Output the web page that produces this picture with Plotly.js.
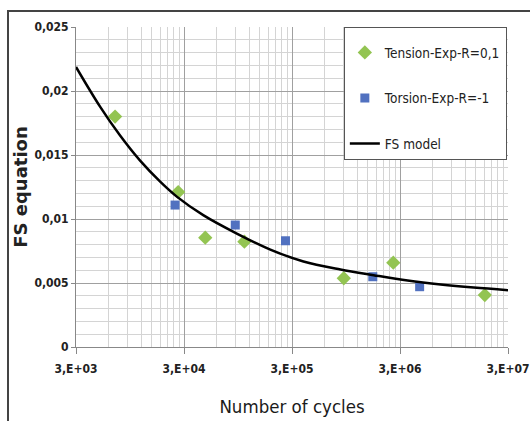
<!DOCTYPE html>
<html>
<head>
<meta charset="utf-8">
<script src="https://cdn.plot.ly/plotly-3.0.1.min.js"></script>
<style>
  html, body { margin: 0; padding: 0; background: #ffffff; }
  #wrap { position: relative; width: 530px; height: 421px; overflow: hidden; }
  #chart { position: absolute; left: 0; top: 0; width: 530px; height: 421px; }
  #frame { position: absolute; left: 7px; top: 10px; width: 530px; height: 430px;
           border-top: 2px solid #444; border-left: 2px solid #444;
           pointer-events: none; }
</style>
</head>
<body>
<div id="wrap">
  <div id="chart"></div>
  <div id="frame"></div>
</div>
<script>
// ---- data ----
const tensionCycles = [6900, 26500, 47200, 108700, 905000, 2600000, 18300000];
const tensionFS     = [0.0180, 0.0121, 0.00854, 0.00823, 0.00537, 0.00659, 0.00406];

const torsionCycles = [24800, 89500, 261000, 1680000, 4560000];
const torsionFS     = [0.01109, 0.00953, 0.0083, 0.00549, 0.00471];

const modelCycles = [3000, 5010, 7680, 11770, 18050, 25900, 45200, 93500, 189000, 383000,
                     843000, 1707000, 3530000, 7140000, 14450000, 30000000];
const modelFS     = [0.02188, 0.01878, 0.01652, 0.01456, 0.01292, 0.01173, 0.0103, 0.00884, 0.00761, 0.00668,
                     0.00605, 0.00561, 0.00519, 0.00488, 0.00464, 0.00444];

const xTickVals = [3e3, 3e4, 3e5, 3e6, 3e7];
const xTickText = ['3,E+03', '3,E+04', '3,E+05', '3,E+06', '3,E+07'];
const yTickVals = [0, 0.005, 0.01, 0.015, 0.02, 0.025];
const yTickText = ['0', '0,005', '0,01', '0,015', '0,02', '0,025'];

const seriesNames = ['Tension-Exp-R=0,1', 'Torsion-Exp-R=-1', 'FS model'];

// minor vertical gridlines at multiples of each major value (Excel style)
const xMinor = [];
for (let d = 0; d < 4; d++) {
  for (let k = 2; k <= 9; k++) xMinor.push(xTickVals[d] * k);
}

const narrow = '"Liberation Sans Narrow", "DejaVu Sans Condensed", "Arial Narrow", "Liberation Sans", sans-serif';

const traces = [
  {
    x: tensionCycles, y: tensionFS, name: seriesNames[0], type: 'scatter', mode: 'markers',
    legendgroup: 'a',
    marker: { symbol: 'diamond', size: 11, color: '#93C452', line: { width: 0 } }
  },
  {
    x: torsionCycles, y: torsionFS, name: seriesNames[1], type: 'scatter', mode: 'markers',
    legendgroup: 'b',
    marker: { symbol: 'square', size: 9, color: '#5171C0', line: { width: 0 } }
  },
  {
    x: modelCycles, y: modelFS, name: seriesNames[2], type: 'scatter', mode: 'lines',
    legendgroup: 'c',
    line: { color: '#000000', width: 2.5, shape: 'spline', smoothing: 1 }
  }
];

const layout = {
  width: 530, height: 421,
  margin: { l: 76, r: 22, t: 27, b: 74 },
  paper_bgcolor: '#ffffff', plot_bgcolor: '#ffffff',
  showlegend: true,
  legend: {
    x: 0.62, y: 1, xanchor: 'left', yanchor: 'top',
    bgcolor: '#ffffff', bordercolor: '#555555', borderwidth: 1,
    font: { family: narrow, size: 13.5, color: '#222222' },
    title: { text: ' ', font: { size: 7 } },
    tracegroupgap: 25
  },
  xaxis: {
    type: 'log',
    range: [Math.log10(3e3), Math.log10(3e7)],
    tickmode: 'array', tickvals: xTickVals, ticktext: xTickText,
    tickfont: { family: narrow, size: 12, color: '#222222', weight: 'bold' },
    ticklabeloverflow: 'allow',
    ticks: 'outside', ticklen: 6, tickcolor: '#888888', ticklabelstandoff: 5,
    showgrid: true, gridcolor: '#a0a0a0', gridwidth: 1,
    minor: { tickmode: 'array', tickvals: xMinor, showgrid: true, gridcolor: '#d4d4d4', gridwidth: 1, ticks: '' },
    showline: true, linecolor: '#888888', linewidth: 1,
    zeroline: false,
    title: { text: 'Number of cycles', standoff: 24,
             font: { family: narrow, size: 18.5, color: '#1a1a1a' } }
  },
  yaxis: {
    range: [0, 0.025],
    tickmode: 'array', tickvals: yTickVals, ticktext: yTickText,
    tickfont: { family: narrow, size: 12, color: '#222222', weight: 'bold' },
    ticks: 'outside', ticklen: 4, tickcolor: '#888888',
    showgrid: true, gridcolor: '#a0a0a0', gridwidth: 1,
    minor: { dtick: 0.001, showgrid: true, gridcolor: '#d4d4d4', gridwidth: 1, ticks: '' },
    showline: true, linecolor: '#888888', linewidth: 1,
    zeroline: false,
    title: { text: 'FS equation', standoff: 2,
             font: { family: '"DejaVu Sans", sans-serif', size: 18, color: '#222222', weight: 'bold' } }
  }
};

Plotly.newPlot('chart', traces, layout, { displayModeBar: false, staticPlot: true });
</script>
</body>
</html>
